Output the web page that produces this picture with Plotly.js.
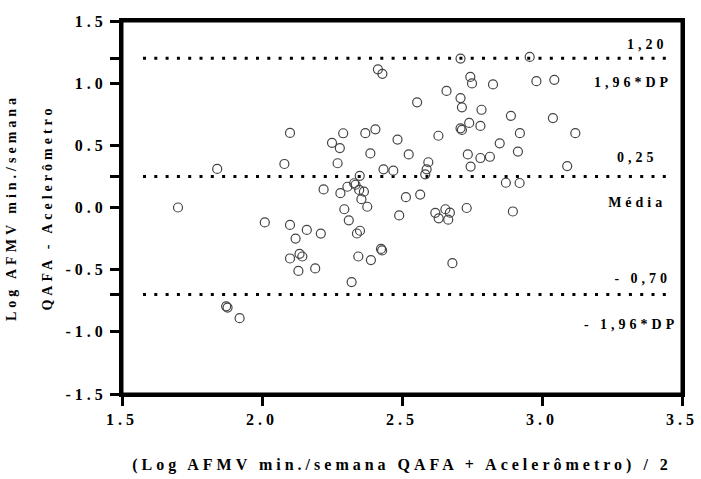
<!DOCTYPE html>
<html>
<head>
<meta charset="utf-8">
<script src="https://cdn.plot.ly/plotly-3.0.1.min.js"></script>
<style>
  html, body { margin: 0; padding: 0; background: #fff; }
  #chart { width: 701px; height: 479px; }
  .main-svg text, .main-svg tspan { letter-spacing: 4px; font-weight: bold !important; }
  .main-svg text.xtitle { letter-spacing: 5px; }
  .main-svg text.ytitle { letter-spacing: 7px; }
</style>
</head>
<body>
<div id="chart"></div>
<script>
// Mean of the two methods (x) and difference QAFA - Acelerômetro (y)
const meanX = [
  1.70, 1.84, 1.872, 1.877, 1.92, 2.01, 2.08, 2.10, 2.10, 2.10,
  2.12, 2.13, 2.134, 2.144, 2.16, 2.19, 2.21, 2.22, 2.25, 2.27,
  2.278, 2.28, 2.29, 2.294, 2.305, 2.31, 2.32, 2.329, 2.334, 2.339,
  2.344, 2.347, 2.349, 2.35, 2.355, 2.364, 2.369, 2.376, 2.387, 2.389,
  2.405, 2.414, 2.425, 2.429, 2.43, 2.434, 2.469, 2.484, 2.49, 2.514,
  2.524, 2.554, 2.565, 2.583, 2.588, 2.594, 2.619, 2.63, 2.631, 2.655,
  2.659, 2.665, 2.671, 2.68, 2.709, 2.709, 2.709, 2.714, 2.714, 2.731,
  2.735, 2.74, 2.744, 2.745, 2.75, 2.78, 2.78, 2.784, 2.814, 2.825,
  2.849, 2.871, 2.889, 2.896, 2.914, 2.92, 2.921, 2.956, 2.98, 3.039,
  3.044, 3.09, 3.119
];
const diffY = [
  0.00, 0.31, -0.795, -0.805, -0.89, -0.12, 0.35, 0.60, -0.14, -0.41,
  -0.25, -0.51, -0.373, -0.394, -0.18, -0.49, -0.21, 0.145, 0.52, 0.356,
  0.478, 0.115, 0.597, -0.014, 0.167, -0.103, -0.60, 0.195, 0.183, -0.209,
  -0.394, 0.141, 0.255, -0.187, 0.067, 0.127, 0.598, 0.006, 0.435, -0.423,
  0.629, 1.111, -0.333, -0.345, 1.075, 0.307, 0.296, 0.546, -0.064, 0.083,
  0.427, 0.846, 0.104, 0.267, 0.307, 0.364, -0.043, 0.577, -0.087, -0.014,
  0.938, -0.098, -0.042, -0.448, 1.198, 0.88, 0.637, 0.806, 0.624, -0.004,
  0.427, 0.68, 1.05, 0.329, 0.998, 0.656, 0.398, 0.786, 0.408, 0.99,
  0.516, 0.199, 0.737, -0.032, 0.45, 0.197, 0.598, 1.211, 1.016, 0.719,
  1.027, 0.333, 0.598
];

// Bland-Altman reference lines: upper limit, mean, lower limit
const refValues = [1.20, 0.25, -0.70];
const refValueLabels = ['1,20', '0,25', '- 0,70'];
const refNameLabels = ['1,96*DP', 'Média', '- 1,96*DP'];
const refLineRange = [1.575, 3.465];

// Axis ranges and ticks
const xRange = [1.5, 3.5];
const yRange = [-1.5, 1.5];
const xTickVals = [1.5, 2.0, 2.5, 3.0, 3.5];
const xTickText = ['1.5', '2.0', '2.5', '3.0', '3.5'];
const yTickVals = [-1.5, -1.0, -0.7, -0.5, 0.0, 0.25, 0.5, 1.0, 1.2, 1.5];
const yTickText = ['-1.5', '-1.0', '', '-0.5', '0.0', '', '0.5', '1.0', '', '1.5'];

const yTitleLines = ['Log AFMV min./semana', 'QAFA - Acelerômetro'];
const xTitle = '(Log AFMV min./semana QAFA + Acelerômetro) / 2';

const serif = 'Liberation Serif';
const b = s => s === '' ? '' : '<b>' + s + '</b>';

const traces = [];
refValues.forEach(v => {
  traces.push({
    x: refLineRange, y: [v, v], mode: 'lines',
    line: { color: '#000', width: 3, dash: '3px,8.3px' },
    hoverinfo: 'skip', showlegend: false
  });
});
traces.push({
  x: meanX, y: diffY, mode: 'markers', type: 'scatter',
  marker: { symbol: 'circle-open', size: 9, color: '#444', line: { width: 1.2, color: '#444' } },
  showlegend: false
});

// label placement around each reference line (styling offsets)
const valueOffsets = [0.105, 0.148, 0.118];
const nameOffsets = [-0.2, -0.214, -0.252];
const valueX = [3.376, 3.34, 3.36];
const nameX = [3.325, 3.34, 3.318];

const labelX = [], labelY = [], labelText = [];
refValues.forEach((v, i) => {
  labelX.push(valueX[i]); labelY.push(v + valueOffsets[i]); labelText.push(b(refValueLabels[i]));
  labelX.push(nameX[i]); labelY.push(v + nameOffsets[i]); labelText.push(b(refNameLabels[i]));
});
traces.push({
  x: labelX, y: labelY, text: labelText, mode: 'text', type: 'scatter',
  textposition: 'middle center',
  textfont: { family: serif, size: 14, color: '#000', weight: 'bold' },
  hoverinfo: 'skip', showlegend: false, cliponaxis: false
});

// frame and tick marks as layout shapes (pixel-sized ticks anchored at tick values)
const frameStyle = { color: '#000', width: 3 };
const shapes = [{
  type: 'rect', xref: 'x', yref: 'y', x0: xRange[0], x1: xRange[1], y0: yRange[0], y1: yRange[1],
  line: frameStyle, fillcolor: 'rgba(0,0,0,0)', layer: 'above'
}];
yTickVals.forEach(v => {
  shapes.push({ type: 'line', xref: 'x', yref: 'y', xsizemode: 'pixel', xanchor: xRange[0], x0: -10, x1: 0, y0: v, y1: v, line: frameStyle, layer: 'above' });
});
xTickVals.forEach(v => {
  shapes.push({ type: 'line', xref: 'x', yref: 'y', ysizemode: 'pixel', yanchor: yRange[0], y0: -10, y1: 0, x0: v, x1: v, line: frameStyle, layer: 'above' });
});

const layout = {
  width: 701, height: 479,
  margin: { l: 122, r: 19, t: 21, b: 85 },
  paper_bgcolor: '#fff', plot_bgcolor: '#fff',
  font: { family: serif, color: '#000' },
  xaxis: {
    range: xRange, tickvals: xTickVals, ticktext: xTickText.map(b),
    ticks: 'outside', ticklen: 9, tickwidth: 3, tickcolor: '#000',
    showline: true, linewidth: 3, linecolor: '#000', mirror: true,
    showgrid: false, zeroline: false,
    tickfont: { family: serif, size: 16, color: '#000', weight: 'bold' },
    title: { text: b(xTitle), font: { family: serif, size: 16, color: '#000', weight: 'bold' }, standoff: 32 }
  },
  yaxis: {
    range: yRange, tickvals: yTickVals, ticktext: yTickText.map(b),
    ticks: 'outside', ticklen: 9, tickwidth: 3, tickcolor: '#000',
    showline: true, linewidth: 3, linecolor: '#000', mirror: true,
    showgrid: false, zeroline: false,
    tickfont: { family: serif, size: 16, color: '#000', weight: 'bold' },
    title: { text: b(yTitleLines[0]) + '<br><br>' + b(yTitleLines[1]), font: { family: serif, size: 14, color: '#000', weight: 'bold' }, standoff: 26 }
  },
  shapes: shapes,
  showlegend: false
};
Plotly.newPlot('chart', traces, layout, { displayModeBar: false, staticPlot: true });
</script>
</body>
</html>
